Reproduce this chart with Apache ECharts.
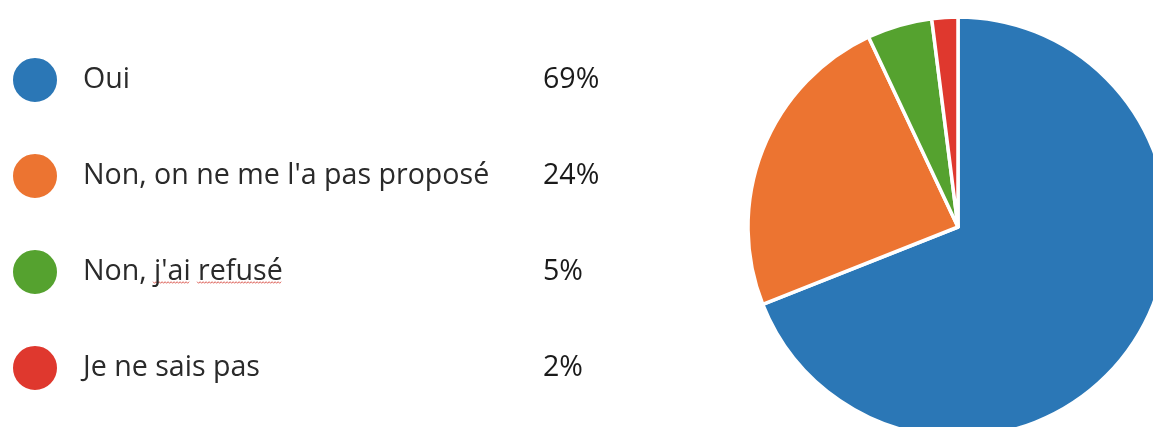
<!DOCTYPE html>
<html>
<head>
<meta charset="utf-8">
<script src="https://cdn.jsdelivr.net/npm/echarts@6/dist/echarts.min.js"></script>
<style>
  html, body { margin: 0; padding: 0; background: #fff; }
  #chart { width: 1153px; height: 427px; }
</style>
</head>
<body>
<div id="chart"></div>
<script>
// Survey answers and their shares (percent)
const categories = ['Oui', "Non, on ne me l'a pas proposé", "Non, j'ai refusé", 'Je ne sais pas'];
const shares = [69, 24, 5, 2];
const colors = ['#2b77b6', '#ec7431', '#55a22f', '#df382e'];

const FONT = 'Open Sans';
const FONT_SIZE = 28.6;
const LEGEND_LEFT = 11;
const LEGEND_TOP = 56;
const ICON = 46;
const ROW_GAP = 48;
const TEXT_X = LEGEND_LEFT + ICON + 5 + 20;   // where the answer text starts

const chart = echarts.init(document.getElementById('chart'), null, { renderer: 'canvas' });

const pctOf = {};
categories.forEach((c, i) => { pctOf[c] = shares[i]; });

// Spell-check style wavy underline under the words "j'ai" and "refusé"
function squiggles() {
  const ctx = document.createElement('canvas').getContext('2d');
  ctx.font = FONT_SIZE + 'px "' + FONT + '"';
  const label = categories[2];
  const rowIndex = 2;
  const rowCenter = LEGEND_TOP + ICON / 2 + rowIndex * (ICON + ROW_GAP + 1.5);
  const y = rowCenter + 12.5;
  const words = ["j'ai", 'refusé'];
  const out = [];
  words.forEach(w => {
    const start = label.indexOf(w);
    const x0 = TEXT_X + ctx.measureText(label.slice(0, start)).width;
    const x1 = x0 + ctx.measureText(w).width;
    const pts = [];
    let k = 0;
    for (let x = x0; x <= x1; x += 1.5, k++) {
      pts.push([x, y + (k % 2 === 0 ? -0.8 : 0.8)]);
    }
    out.push({
      type: 'polyline',
      silent: true,
      shape: { points: pts },
      style: { stroke: '#d9534a', lineWidth: 0.9, fill: null }
    });
  });
  return out;
}

function render() {
  chart.setOption({
    animation: false,
    backgroundColor: '#ffffff',
    legend: {
      orient: 'vertical',
      left: LEGEND_LEFT,
      top: LEGEND_TOP,
      padding: 0,
      itemWidth: ICON,
      itemHeight: ICON,
      itemGap: ROW_GAP,
      icon: 'circle',
      selectedMode: false,
      data: categories,
      formatter: name => `{s|}{n|${name}}{p|${pctOf[name]}%}`,
      textStyle: {
        fontFamily: FONT,
        rich: {
          s: { width: 20 },
          n: { width: 460, fontSize: FONT_SIZE, color: '#2a2a2a', fontFamily: FONT, lineHeight: 36 },
          p: { fontSize: FONT_SIZE, color: '#1a1a1a', fontFamily: FONT, lineHeight: 36 }
        }
      }
    },
    graphic: squiggles(),
    series: [{
      type: 'pie',
      center: [958, 227],
      radius: 210,
      startAngle: 90,
      clockwise: true,
      label: { show: false },
      labelLine: { show: false },
      emphasis: { disabled: true },
      itemStyle: { borderColor: '#ffffff', borderWidth: 3.5 },
      data: categories.map((c, i) => ({ name: c, value: shares[i], itemStyle: { color: colors[i] } }))
    }]
  });
}

if (document.fonts && document.fonts.load) {
  document.fonts.load(FONT_SIZE + 'px "' + FONT + '"').then(render, render);
} else {
  render();
}
</script>
</body>
</html>
